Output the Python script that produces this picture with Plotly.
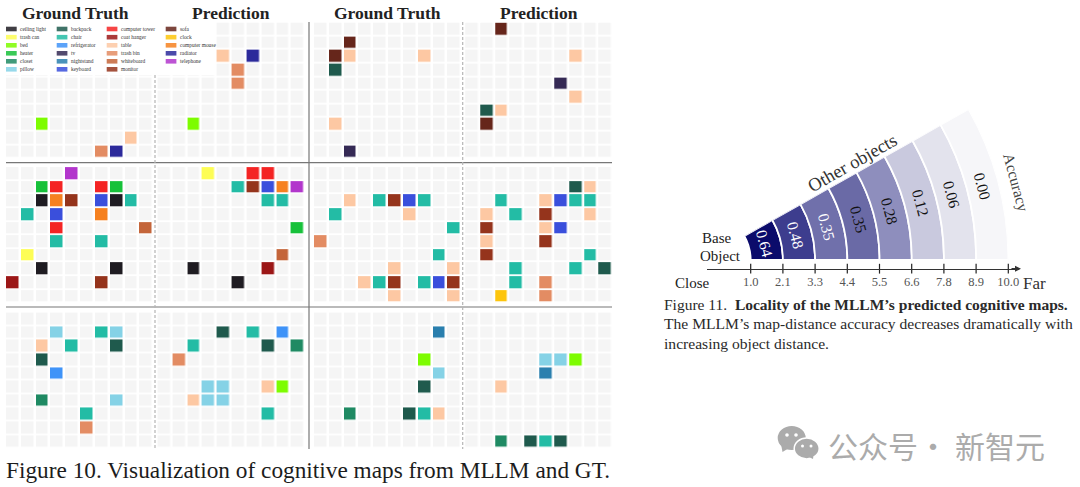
import math
import plotly.graph_objects as go

W, H = 1080, 487

# ---- data ----
legend_columns = [
    ["ceiling light", "trash can", "bed", "heater", "closet", "pillow"],
    ["backpack", "chair", "refrigerator", "tv", "nightstand", "keyboard"],
    ["computer tower", "coat hanger", "table", "trash bin", "whiteboard", "monitor"],
    ["sofa", "clock", "computer mouse", "radiator", "telephone"],
]
category_colors = {
    "ceiling light": "#1f1c22", "trash can": "#fdfd55", "bed": "#7dfc00", "heater": "#17c13a",
    "closet": "#1f8a63", "pillow": "#85d2e6", "backpack": "#1f5a4d", "chair": "#23bca5",
    "refrigerator": "#3f93f8", "tv": "#352a55", "nightstand": "#2a7fae", "keyboard": "#3a4fdc",
    "computer tower": "#f42424", "coat hanger": "#9c1717", "table": "#fdc8a3", "trash bin": "#e38c63",
    "whiteboard": "#c4653a", "monitor": "#95341c", "sofa": "#66261b", "clock": "#fdc50c",
    "computer mouse": "#f68120", "radiator": "#2c2a9b", "telephone": "#b236cc",
}
# (row, column, category) for each map
top_gt_a = [(7,2,"bed"),(8,8,"table"),(9,6,"trash bin"),(9,7,"radiator")]
top_pred_a = [(2,4,"table"),(2,6,"radiator"),(3,5,"trash bin"),(4,5,"trash bin"),(7,2,"bed")]
top_gt_b = [(1,2,"sofa"),(2,1,"sofa"),(2,2,"table"),(2,7,"table"),(3,1,"backpack"),(7,1,"table"),(9,2,"tv")]
top_pred_b = [(0,2,"sofa"),(2,7,"table"),(4,6,"tv"),(5,7,"table"),(6,1,"backpack"),(6,2,"table"),(7,1,"sofa")]
mid_gt_a = [(0,4,"telephone"),(1,2,"heater"),(1,3,"computer tower"),(1,6,"computer tower"),(1,7,"heater"),
            (2,2,"ceiling light"),(2,3,"computer mouse"),(2,4,"monitor"),(2,6,"keyboard"),(2,7,"ceiling light"),(2,8,"chair"),
            (3,1,"chair"),(3,3,"keyboard"),(3,6,"computer mouse"),(4,3,"computer tower"),(4,9,"whiteboard"),
            (5,3,"chair"),(5,6,"chair"),(6,1,"trash can"),(7,2,"ceiling light"),(7,7,"ceiling light"),
            (8,0,"coat hanger"),(8,6,"monitor")]
mid_pred_a = [(0,3,"trash can"),(0,6,"computer tower"),(0,7,"computer tower"),(1,5,"chair"),(1,6,"monitor"),
              (1,7,"keyboard"),(1,8,"computer mouse"),(1,9,"telephone"),(2,7,"chair"),(2,8,"chair"),(4,9,"heater"),
              (6,8,"whiteboard"),(7,2,"ceiling light"),(7,7,"coat hanger"),(8,5,"ceiling light")]
mid_gt_b = [(2,2,"table"),(2,4,"chair"),(2,5,"monitor"),(2,6,"keyboard"),(2,7,"chair"),(3,1,"chair"),(3,6,"table"),
            (4,9,"chair"),(5,0,"trash bin"),(6,8,"chair"),(7,5,"table"),(7,9,"table"),(8,3,"table"),(8,4,"chair"),
            (8,5,"monitor"),(8,7,"chair"),(8,8,"keyboard"),(8,9,"monitor"),(9,5,"table"),(9,9,"table")]
mid_pred_b = [(1,7,"backpack"),(1,8,"table"),(2,2,"chair"),(2,5,"table"),(2,6,"keyboard"),(2,7,"chair"),(2,8,"chair"),
              (3,1,"table"),(3,3,"chair"),(3,5,"monitor"),(3,8,"table"),(4,1,"monitor"),(4,5,"table"),(4,6,"keyboard"),
              (5,1,"table"),(5,5,"monitor"),(6,1,"monitor"),(6,8,"chair"),(7,3,"chair"),(7,7,"chair"),(7,9,"backpack"),
              (8,3,"chair"),(8,5,"trash bin"),(9,2,"clock"),(9,5,"trash bin")]
bot_gt_a = [(1,3,"pillow"),(1,6,"chair"),(1,7,"pillow"),(2,2,"table"),(2,4,"chair"),(2,7,"backpack"),(3,2,"backpack"),
            (4,3,"refrigerator"),(6,2,"closet"),(6,7,"pillow"),(7,5,"chair"),(8,5,"trash bin")]
bot_pred_a = [(1,4,"backpack"),(1,6,"chair"),(1,8,"refrigerator"),(2,2,"chair"),(2,7,"backpack"),(2,9,"closet"),
              (3,1,"trash bin"),(5,3,"pillow"),(5,4,"pillow"),(5,7,"table"),(5,8,"bed"),(6,2,"table"),(6,3,"pillow"),
              (6,4,"pillow"),(7,7,"chair")]
bot_gt_b = [(1,8,"nightstand"),(3,7,"bed"),(4,8,"pillow"),(5,7,"backpack"),(7,2,"closet"),(7,6,"backpack"),
            (7,7,"chair"),(7,8,"table")]
bot_pred_b = [(3,5,"pillow"),(3,6,"pillow"),(3,7,"bed"),(4,5,"nightstand"),(5,2,"table"),(9,2,"closet"),
              (9,4,"backpack"),(9,5,"chair"),(9,6,"backpack")]

distance_labels = ["1.0", "2.1", "3.3", "4.4", "5.5", "6.6", "7.8", "8.9", "10.0"]
accuracy_values = [0.64, 0.48, 0.35, 0.35, 0.28, 0.12, 0.06, 0.00]
accuracy_colors = ["#0b0b6b", "#3d3d8e", "#7070ab", "#6a6aa6", "#8e8ebd", "#c9c9de", "#e3e3ed", "#f6f6f9"]
accuracy_text_colors = ["white", "white", "white", "#111", "#111", "#111", "#111", "#111"]

# ---- layout geometry (pixels) ----
PITCH_X, PITCH_Y = 14.83, 13.63
GAP_X, GAP_Y = 2.5, 1.8
panel_x = [6.2, 157.8, 314.2, 465.5]
block_y = [23.5, 168.0, 313.3]
FX = lambda px: px / W
FY = lambda py: 1 - py / H

names = [a for col in legend_columns for a in col]
index = {n: i + 1 for i, n in enumerate(names)}
n = len(names)
scale = []
all_cols = ["#f5f5f5"] + [category_colors[k] for k in names]
for i, c in enumerate(all_cols):
    scale += [[i / (n + 1), c], [(i + 1) / (n + 1), c]]

maps = [[top_gt_a, top_pred_a, top_gt_b, top_pred_b],
        [mid_gt_a, mid_pred_a, mid_gt_b, mid_pred_b],
        [bot_gt_a, bot_pred_a, bot_gt_b, bot_pred_b]]

fig = go.Figure()
layout = dict(width=W, height=H, margin=dict(l=0, r=0, t=0, b=0), paper_bgcolor="white",
              plot_bgcolor="white", showlegend=False)

k = 0
for b, row_maps in enumerate(maps):
    for p, cells in enumerate(row_maps):
        k += 1
        z = [[0] * 10 for _ in range(10)]
        for r, c, name in cells:
            z[r][c] = index[name]
        suffix = "" if k == 1 else str(k)
        fig.add_trace(go.Heatmap(z=z, xgap=GAP_X, ygap=GAP_Y, colorscale=scale, zmin=-0.5, zmax=n + 0.5,
                                 showscale=False, hoverinfo="skip",
                                 xaxis="x" + suffix, yaxis="y" + suffix))
        x0 = panel_x[p] - GAP_X / 2
        y0 = block_y[b] - GAP_Y / 2
        layout["xaxis" + suffix] = dict(domain=[FX(x0), FX(x0 + 10 * PITCH_X)], visible=False,
                                        range=[-0.5, 9.5], anchor="y" + suffix, fixedrange=True)
        layout["yaxis" + suffix] = dict(domain=[FY(y0 + 10 * PITCH_Y), FY(y0)], visible=False,
                                        range=[9.5, -0.5], anchor="x" + suffix, fixedrange=True)

# ---- fan chart ----
CX, CY, R = 701.7, 260.0, 306.7
SECTOR = 29.5
fig.add_trace(go.Barpolar(r=[1] * 8, base=list(range(8)), theta=[SECTOR / 2] * 8, width=[SECTOR] * 8,
                          marker=dict(color=accuracy_colors, line=dict(color="white", width=1.8)),
                          hoverinfo="skip", subplot="polar"))
layout["polar"] = dict(
    domain=dict(x=[FX(CX), FX(CX + R)], y=[FY(CY), FY(CY - R * math.sin(math.radians(SECTOR)))]),
    sector=[0, SECTOR], bgcolor="rgba(0,0,0,0)",
    radialaxis=dict(visible=False, range=[-1.52, 8]),
    angularaxis=dict(visible=False),
)

# distance axis
AX0, AX1, AY = 707.0, 1019.0, 268.7
T0, TP = 750.7, 32.2
fig.add_trace(go.Scatter(x=distance_labels, y=[0] * 9, mode="markers", xaxis="x13", yaxis="y13", cliponaxis=False,
                         marker=dict(symbol="line-ns", size=7, line=dict(color="#222", width=1.2)), hoverinfo="skip"))
layout["xaxis13"] = dict(domain=[FX(AX0), FX(AX1)], type="category", range=[(AX0 - T0) / TP, (AX1 - T0) / TP],
                         anchor="y13", showline=True, linecolor="#333", linewidth=1.2, ticks="", showgrid=False,
                         tickmode="array", tickvals=distance_labels, ticktext=distance_labels, zeroline=False,
                         tickfont=dict(family="Liberation Serif", size=12.5, color="#555"), fixedrange=True,
                         ticklabelstandoff=1)
layout["yaxis13"] = dict(domain=[FY(AY), FY(AY - 8)], range=[0, 1], visible=False, anchor="x13", fixedrange=True)

SERIF = "Liberation Serif"
ann = []
def text(px, py, s, size, color="#222", angle=0, xanchor="center", bold=False, family=SERIF):
    if xanchor == "left":
        px -= 2  # annotation box padding
    ann.append(dict(x=FX(px), y=FY(py), xref="paper", yref="paper", text=f"<b>{s}</b>" if bold else s, showarrow=False,
                    font=dict(family=family, size=size, color=color), textangle=angle,
                    xanchor=xanchor, yanchor="middle", align="left"))

ann.append(dict(x=FX(1021), y=FY(AY), ax=-11, ay=0, xref="paper", yref="paper",
                text="", showarrow=True, arrowhead=2, arrowsize=1, arrowwidth=1.2, arrowcolor="#333"))

# panel titles
for cx, t in [(75, "Ground Truth"), (230.7, "Prediction"), (387.5, "Ground Truth"), (539, "Prediction")]:
    text(cx, 13.2, t, 17.5, "#222", bold=True)

# legend
shapes = [dict(type="rect", xref="paper", yref="paper", x0=FX(0), x1=FX(216), y0=FY(75), y1=FY(22),
               fillcolor="white", line=dict(width=0), layer="above")]
leg_x = [6.0, 56.7, 106.7, 165.7]
leg_y = [29, 37.2, 45.3, 53.3, 61.3, 69.3]
for cx, col in zip(leg_x, legend_columns):
    for ly, name in zip(leg_y, col):
        shapes.append(dict(type="rect", xref="paper", yref="paper", x0=FX(cx), x1=FX(cx + 10.7),
                           y0=FY(ly + 2.3), y1=FY(ly - 2.3), fillcolor=category_colors[name], opacity=0.85,
                           line=dict(width=0), layer="above"))
        text(cx + 14, ly, name, 5.4, "#333", xanchor="left")

# separators
LINE = "#777"
for yy in (162.7, 307.0):
    shapes.append(dict(type="line", xref="paper", yref="paper", x0=FX(6), x1=FX(612), y0=FY(yy), y1=FY(yy),
                       line=dict(color=LINE, width=1.2), layer="above"))
shapes.append(dict(type="line", xref="paper", yref="paper", x0=FX(309), x1=FX(309), y0=FY(22), y1=FY(449),
                   line=dict(color=LINE, width=1.2), layer="above"))
for xx, y_start in ((155, 75), (462.7, 22)):
    shapes.append(dict(type="line", xref="paper", yref="paper", x0=FX(xx), x1=FX(xx), y0=FY(y_start), y1=FY(449),
                       line=dict(color="#b5b5b5", width=1.2, dash="3px,2px"), layer="above"))

# captions
text(6, 470, "Figure 10. Visualization of cognitive maps from MLLM and GT.", 23.3, "#1c1c1c", xanchor="left")
text(664, 304.5, "Figure 11.  <b>Locality of the MLLM’s predicted cognitive maps.</b>", 15.5, "#2a2a2a", xanchor="left")
text(664, 323.7, "The MLLM’s map-distance accuracy decreases dramatically with", 15.6, "#2a2a2a", xanchor="left")
text(664, 343, "increasing object distance.", 15.6, "#2a2a2a", xanchor="left")

# fan labels
text(717, 237.7, "Base", 15, "#222")
text(720, 256, "Object", 15, "#222")
text(692.7, 283, "Close", 15, "#222")
text(1034, 283, "Far", 17, "#333")
text(852.7, 163.3, "Other objects", 18.5, "#333", angle=-29.5)
text(1016, 182.7, "Accuracy", 15.5, "#444", angle=75)
for i, (v, tc) in enumerate(zip(accuracy_values, accuracy_text_colors)):
    rp = (i + 2.02) * TP
    th = math.radians(14.7)
    text(CX + rp * math.cos(th), CY - rp * math.sin(th), f"{v:.2f}", 15.5, tc, angle=75)

# watermark
GREY = "#ababab"
CJK = "Noto Sans CJK SC"
text(828, 445, "公众号", 30, GREY, xanchor="left", family=CJK)
text(933, 445, "·", 30, GREY, family=CJK)
text(955, 445, "新智元", 30, GREY, xanchor="left", family=CJK)
def ell(cx, cy, rx, ry, color, line=None):
    shapes.append(dict(type="circle", xref="paper", yref="paper", x0=FX(cx - rx), x1=FX(cx + rx),
                       y0=FY(cy + ry), y1=FY(cy - ry), fillcolor=color,
                       line=dict(width=1.5, color=line) if line else dict(width=0), layer="above"))
def tail(x1, y1, x2, y2, x3, y3):
    shapes.append(dict(type="path", xref="paper", yref="paper",
                       path=f"M{FX(x1)},{FY(y1)} L{FX(x2)},{FY(y2)} L{FX(x3)},{FY(y3)} Z",
                       fillcolor=GREY, line=dict(width=0), layer="above"))
tail(781, 444, 782.5, 452, 789, 448)
ell(791.7, 438, 14, 12, GREY)
ell(787, 435, 1.8, 1.8, "white"); ell(796, 435, 1.8, 1.8, "white")
ell(806.7, 448.5, 12.5, 10.5, GREY, "white")
tail(809, 457, 813, 459, 813.5, 455)
ell(802.5, 446, 1.5, 1.5, "white"); ell(811, 446, 1.5, 1.5, "white")

layout["shapes"] = shapes
layout["annotations"] = ann
fig.update_layout(**layout)
fig.write_html("out.html", config=dict(displayModeBar=False),
               post_script="document.body.style.margin='0';document.body.style.overflow='hidden';")
